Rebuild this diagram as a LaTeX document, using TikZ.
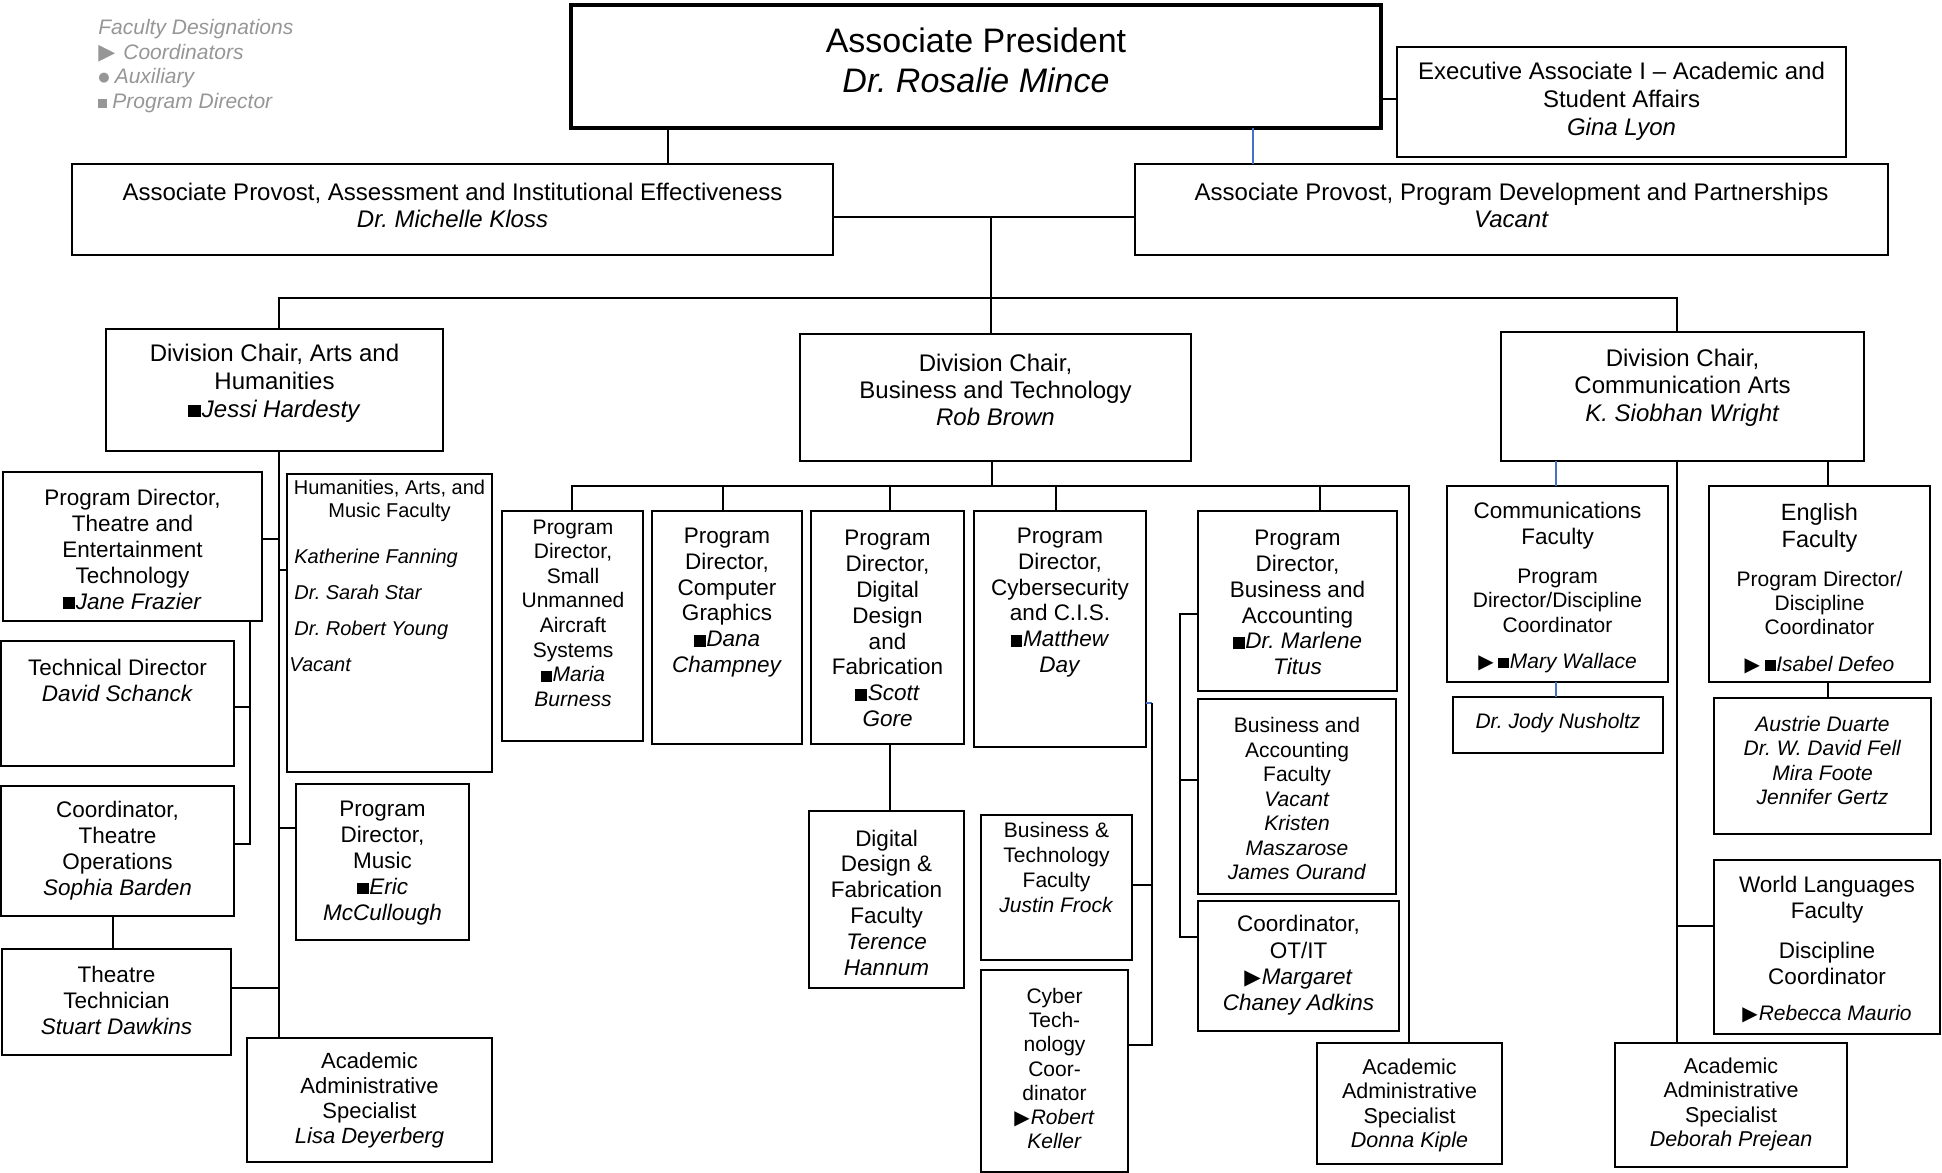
\documentclass[tikz,border=0pt]{standalone}
\usepackage{graphicx}
\usepackage{fontspec}
\setmainfont{Liberation Sans}
\newfontfamily\symf{DejaVu Sans}
\frenchspacing
\definecolor{lg}{RGB}{150,150,150}
\definecolor{bl}{RGB}{68,114,196}
\newcommand\sq{\rule{0.52em}{0.52em}\hspace{0.04em}}
\newcommand\tri{\raisebox{0.0em}{\scalebox{0.95}{\symf ▶}}\hspace{0.05em}}
\newcommand\fz[2]{\fontsize{#1bp}{#2bp}\selectfont}
\newcommand\bx[6][]{\node[box,#1,minimum width={(#5-#3)*0.5bp},minimum height={(#6-#4)*0.5bp}] (#2) at ({(#3+#5)/2},{(#4+#6)/2}) {};}
\newcommand\tx[7][]{\node[txt,font=\fz{#5}{#6},#1] (#2) at (#3,#4) {#7};}
\begin{document}
\begin{tikzpicture}[x=0.5bp,y=-0.5bp,
  box/.style={draw, line width=1bp, inner sep=0pt, outer sep=0pt},
  txt/.style={align=center, inner sep=0pt},
  ln/.style={line width=1bp},
  bln/.style={draw=bl, line width=0.7bp}]
\useasboundingbox (0,0) rectangle (1942,1173);

% legend
\tx[align=left, anchor=west, text=lg]{legend}{98}{66}{10.5}{12.35}{\textit{Faculty Designations}\\
{\scalebox{1.05}{\symf ▶}}\hspace{4bp}\textit{Coordinators}\\
{\raisebox{0.12em}{\scalebox{0.62}{\symf ●}}}\hspace{2.5bp}\textit{Auxiliary}\\
\rule{4.5bp}{4.5bp}\hspace{2.5bp}\textit{Program Director}}

% top level
\bx[line width=1.75bp]{ap}{571}{5}{1381}{128}
\tx{ap-t}{976}{60}{17}{20}{Associate President\\\textit{Dr. Rosalie Mince}}
\bx{exe}{1397}{47}{1846}{157}
\tx{exe-t}{1621.5}{101}{12}{14}{Executive Associate I – Academic and\\Student Affairs\\\textit{Gina Lyon}}
\bx{apa}{72}{164}{833}{255}
\tx{apa-t}{452.5}{205.5}{12}{13.5}{Associate Provost, Assessment and Institutional Effectiveness\\\textit{Dr. Michelle Kloss}}
\bx{app}{1135}{164}{1888}{255}
\tx{app-t}{1511.5}{205.5}{12}{13.5}{Associate Provost, Program Development and Partnerships\\\textit{Vacant}}

% divisions
\bx{arts}{106}{329}{443}{451}
\tx{arts-t}{274.5}{383}{12}{14}{Division Chair, Arts and\\Humanities\\\sq\textit{Jessi Hardesty}}
\bx{bt}{800}{334}{1191}{461}
\tx{bt-t}{995.5}{390}{12}{13.5}{Division Chair,\\Business and Technology\\\textit{Rob Brown}}
\bx{ca}{1501}{332}{1864}{461}
\tx{ca-t}{1682.5}{387.5}{12}{13.75}{Division Chair,\\Communication Arts\\\textit{K. Siobhan Wright}}

% arts column
\bx{tpd}{3}{472}{262}{621}
\tx{tpd-t}{132.5}{549}{11.25}{13}{Program Director,\\Theatre and\\Entertainment\\Technology\\\sq\textit{Jane Frazier}}
\bx{td}{1}{641}{234}{766}
\tx{td-t}{117.5}{680}{11.25}{13}{Technical Director\\\textit{David Schanck}}
\bx{hum}{287}{474}{492}{772}
\tx{hum-h}{389.5}{500.5}{10}{11.5}{Humanities, Arts, and\\Music Faculty}
\tx[align=left,anchor=west]{hum-n}{294}{610}{10}{18}{\textit{Katherine Fanning}\\\textit{Dr. Sarah Star}\\\textit{Dr. Robert Young}\\\hspace*{-2.5bp}\textit{Vacant}}
\bx{cto}{1}{786}{234}{916}
\tx{cto-t}{117.5}{851}{11.25}{13}{Coordinator,\\Theatre\\Operations\\\textit{Sophia Barden}}
\bx{ttech}{2}{949}{231}{1055}
\tx{ttech-t}{116.5}{1000}{11.25}{13}{Theatre\\Technician\\\textit{Stuart Dawkins}}
\bx{mus}{296}{784}{469}{940}
\tx{mus-t}{382.5}{863}{11.25}{13}{Program\\Director,\\Music\\\sq\textit{Eric}\\\textit{McCullough}}
\bx{lisa}{247}{1038}{492}{1162}
\tx{lisa-t}{369.5}{1100.5}{11}{12.5}{Academic\\Administrative\\Specialist\\\textit{Lisa Deyerberg}}

% business and technology column
\bx{suas}{502}{511}{643}{741}
\tx{suas-t}{573}{613}{10.5}{12.3}{Program\\Director,\\Small\\Unmanned\\Aircraft\\Systems\\\sq\textit{Maria}\\\textit{Burness}}
\bx{cg}{652}{511}{802}{744}
\tx{cg-t}{727}{602.5}{11.25}{12.9}{Program\\Director,\\Computer\\Graphics\\\sq\textit{Dana}\\\textit{Champney}}
\bx{ddf}{811}{511}{964}{744}
\tx{ddf-t}{887.5}{628.5}{11.25}{12.93}{Program\\Director,\\Digital\\Design\\and\\Fabrication\\\sq\textit{Scott}\\\textit{Gore}}
\bx{cyb}{974}{511}{1146}{747}
\tx{cyb-t}{1060}{602.5}{11.25}{12.9}{Program\\Director,\\Cybersecurity\\and C.I.S.\\\sq\textit{Matthew}\\\textit{Day}}
\bx{pdba}{1198}{511}{1397}{691}
\tx{pdba-t}{1297.5}{602.5}{11.25}{12.9}{Program\\Director,\\Business and\\Accounting\\\sq\textit{Dr. Marlene}\\\textit{Titus}}
\bx{baf}{1198}{699}{1396}{894}
\tx{baf-t}{1297}{798.5}{10.5}{12.25}{Business and\\Accounting\\Faculty\\\textit{Vacant}\\\textit{Kristen}\\\textit{Maszarose}\\\textit{James Ourand}}
\bx{otit}{1198}{901}{1399}{1031}
\tx{otit-t}{1298.5}{965.5}{11.25}{13.2}{Coordinator,\\OT/IT\\\tri\textit{Margaret}\\\textit{Chaney Adkins}}
\bx{donna}{1317}{1043}{1502}{1164}
\tx{donna-t}{1409.5}{1105.5}{10.75}{12.2}{Academic\\Administrative\\Specialist\\\textit{Donna Kiple}}
\bx{ddff}{809}{811}{964}{988}
\tx{ddff-t}{886.5}{902.5}{11.25}{12.9}{Digital\\Design \&\\Fabrication\\Faculty\\\textit{Terence}\\\textit{Hannum}}
\bx{btf}{981}{815}{1132}{960}
\tx{btf-t}{1056.5}{867.5}{10.5}{12.5}{Business \&\\Technology\\Faculty\\\textit{Justin Frock}}
\bx{ctc}{981}{970}{1128}{1172}
\tx{ctc-t}{1054.5}{1068.5}{10.5}{12.1}{Cyber\\Tech-\\nology\\Coor-\\dinator\\\tri\textit{Robert}\\\textit{Keller}}

% communication arts column
\bx{cf}{1447}{486}{1668}{682}
\tx{cf-h}{1557.5}{526}{11.25}{13}{Communications\\Faculty}
\tx{cf-b}{1557.5}{600.5}{10.5}{12.25}{Program\\Director/Discipline\\Coordinator}
\tx{cf-n}{1557.5}{663}{10.5}{12}{\tri\,\sq\textit{Mary Wallace}}
\bx{jody}{1453}{697}{1663}{753}
\tx{jody-t}{1558}{723}{10.5}{12}{\textit{Dr. Jody Nusholtz}}
\bx{eng}{1709}{486}{1930}{682}
\tx{eng-h}{1819.5}{527.5}{11.75}{13.5}{English\\Faculty}
\tx{eng-b}{1819.5}{603}{10.5}{12}{Program Director/\\Discipline\\Coordinator}
\tx{eng-n}{1819.5}{665}{10.5}{12}{\tri\,\sq\textit{Isabel Defeo}}
\bx{engn}{1714}{698}{1931}{834}
\tx{engn-t}{1822.5}{760.5}{10.5}{12.15}{\textit{Austrie Duarte}\\\textit{Dr. W. David Fell}\\\textit{Mira Foote}\\\textit{Jennifer Gertz}}
\bx{wl}{1714}{860}{1940}{1034}
\tx{wl-h}{1827}{900}{11.25}{13}{World Languages\\Faculty}
\tx{wl-b}{1827}{963}{11.25}{13}{Discipline\\Coordinator}
\tx{wl-n}{1827}{1014}{10.5}{12}{\tri\textit{Rebecca Maurio}}
\bx{deb}{1615}{1043}{1847}{1167}
\tx{deb-t}{1731}{1104.5}{10.75}{12.3}{Academic\\Administrative\\Specialist\\\textit{Deborah Prejean}}

% ---------- connectors ----------
\coordinate (hub) at (991,217);
\coordinate (trL) at (279,298);
\coordinate (trR) at (1677,298);
\draw[ln] (ap.south -| 668,0) -- (apa.north -| 668,0);
\draw[ln] (ap.east |- 0,99) -- (exe.west |- 0,99);
\draw[bln] (ap.south -| 1253,0) -- (app.north -| 1253,0);
\draw[ln] (apa.east |- hub) -- (app.west |- hub);
\draw[ln] (hub) -- (bt.north -| hub);
\draw[ln] (arts.north -| trL) -- (trL) -- (trR) -- (ca.north -| trR);

% arts
\coordinate (sp2) at (250,707);
\draw[ln] (arts.south -| trL) -- (lisa.north -| trL);
\draw[ln] (tpd.east |- 0,539) -- (trL |- 0,539);
\draw[ln] (hum.west |- 0,570) -- (trL |- 0,570);
\draw[ln] (mus.west |- 0,828) -- (trL |- 0,828);
\draw[ln] (ttech.east |- 0,988) -- (trL |- 0,988);
\draw[ln] (tpd.south -| sp2) |- (cto.east |- 0,844);
\draw[ln] (td.east |- sp2) -- (sp2);
\draw[ln] (cto.south -| 113,0) -- (ttech.north -| 113,0);

% business and technology
\coordinate (st) at (992,486);
\coordinate (cj) at (1152,703);
\coordinate (bj) at (1180,614);
\draw[ln] (bt.south -| st) -- (st);
\draw[ln] (suas.north -| 572,0) |- (st);
\draw[ln] (st) -| (donna.north -| 1409,0);
\draw[ln] (cg.north -| 723,0) -- (st -| 723,0);
\draw[ln] (ddf.north -| 890,0) -- (st -| 890,0);
\draw[ln] (cyb.north -| 1056,0) -- (st -| 1056,0);
\draw[ln] (pdba.north -| 1320,0) -- (st -| 1320,0);
\draw[ln] (ddf.south -| 890,0) -- (ddff.north -| 890,0);
\draw[bln] (cyb.east |- cj) -- (cj);
\draw[ln] (cj) |- (ctc.east |- 0,1045);
\draw[ln] (btf.east |- 0,885) -- (cj |- 0,885);
\draw[ln] (pdba.west |- bj) -- (bj) |- (otit.west |- 0,937);
\draw[ln] (baf.west |- 0,780) -- (bj |- 0,780);

% communication arts
\draw[ln] (ca.south -| trR) -- (deb.north -| trR);
\draw[ln] (trR |- 0,926) -- (wl.west |- 0,926);
\draw[bln] (ca.south -| 1556,0) -- (cf.north -| 1556,0);
\draw[bln] (cf.south -| 1556,0) -- (jody.north -| 1556,0);
\draw[ln] (ca.south -| 1828,0) -- (eng.north -| 1828,0);
\draw[ln] (eng.south -| 1828,0) -- (engn.north -| 1828,0);
\end{tikzpicture}
\end{document}
